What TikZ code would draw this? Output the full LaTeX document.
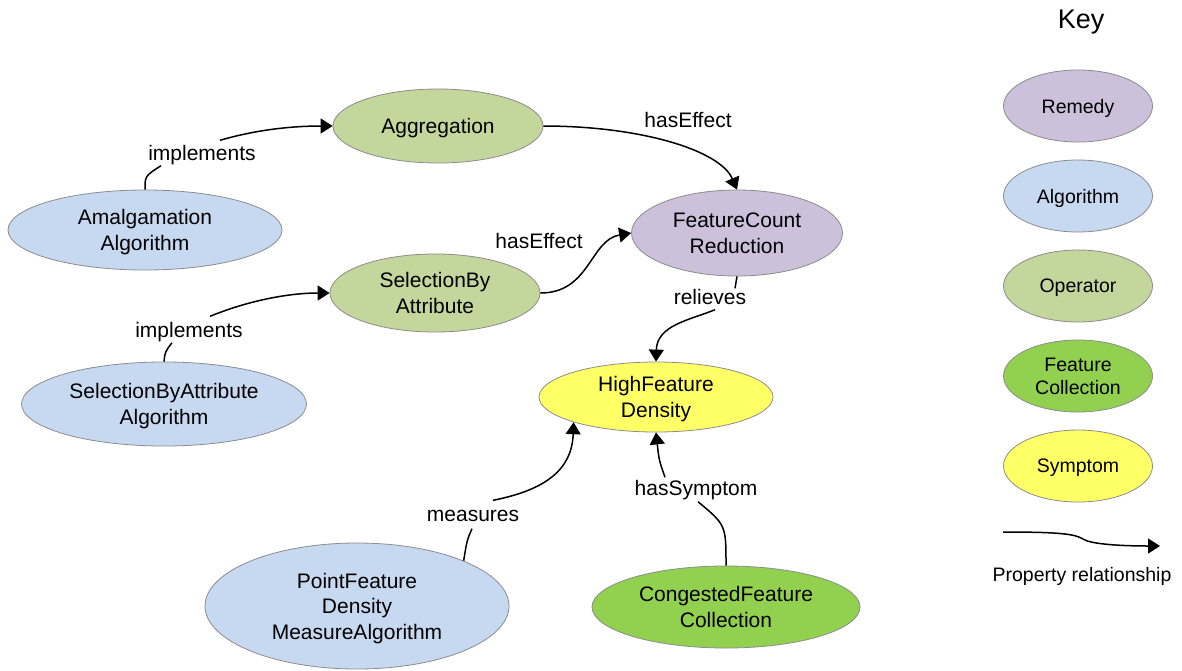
\documentclass[tikz,border=0pt]{standalone}
\usepackage{fontspec}
\setmainfont{Liberation Sans}
\usetikzlibrary{shapes.geometric,arrows.meta,calc}
\definecolor{cRemedy}{RGB}{204,192,218}
\definecolor{cAlgo}{RGB}{198,217,240}
\definecolor{cOper}{RGB}{195,214,155}
\definecolor{cFeat}{RGB}{146,208,80}
\definecolor{cSym}{RGB}{255,255,102}
\definecolor{cBorder}{RGB}{140,140,140}
\begin{document}
\begin{tikzpicture}[x=1pt,y=-1pt,
  box/.style={ellipse,draw=cBorder,line width=0.8pt,inner sep=0pt,align=center,text depth=0pt,font=\fontsize{21}{25.5}\selectfont},
  keybox/.style={ellipse,draw=cBorder,line width=0.8pt,inner sep=0pt,align=center,text depth=0pt,font=\fontsize{19.5}{23}\selectfont,minimum width=149pt,minimum height=72pt},
  lbl/.style={font=\fontsize{21}{25}\selectfont,inner sep=1pt,text height=15pt,text depth=4pt},
  link/.style={line width=1.5pt,black},
  rel/.style={link,-{Triangle[length=12pt,width=15pt]}}
]
\useasboundingbox[fill=white] (0,0) rectangle (1182,670);

% main nodes
\node[box,fill=cOper,minimum width=210pt,minimum height=74pt] (agg) at (438,126) {Aggregation};
\node[box,fill=cAlgo,minimum width=274pt,minimum height=80pt] (amal) at (145,230) {Amalgamation\\Algorithm};
\node[box,fill=cOper,minimum width=210pt,minimum height=78pt] (sel) at (435,293) {SelectionBy\\Attribute};
\node[box,fill=cRemedy,minimum width=211pt,minimum height=86pt] (fcr) at (737,233) {FeatureCount\\Reduction};
\node[box,fill=cAlgo,minimum width=285pt,minimum height=84pt] (selalg) at (164,404) {SelectionByAttribute\\Algorithm};
\node[box,fill=cSym,minimum width=234pt,minimum height=70pt] (hfd) at (656,397) {HighFeature\\Density};
\node[box,fill=cAlgo,minimum width=304pt,minimum height=126pt] (pf) at (357,606) {PointFeature\\Density\\MeasureAlgorithm};
\node[box,fill=cFeat,minimum width=268pt,minimum height=82pt] (cong) at (726,607) {CongestedFeature\\Collection};

% labels
\node[lbl] (l1) at (202,155) {implements};
\node[lbl] (l2) at (688,122) {hasEffect};
\node[lbl] (l3) at (539,243) {hasEffect};
\node[lbl] (l4) at (189,332) {implements};
\node[lbl] (l5) at (710,299) {relieves};
\node[lbl] (l6) at (473,516) {measures};
\node[lbl] (l7) at (696,490) {hasSymptom};

% connectors
\draw[link] (amal.north) .. controls (145,176) .. ($(l1.south)+(-41,0)$);
\draw[rel] ($(l1.north)+(18,-4)$) .. controls (262,128) and (300,126) .. (agg.west);

\draw[rel] (agg.east) .. controls (640,126) and (720,150) .. (fcr.north);

\draw[rel] (sel.east) .. controls (590,293) and (590,240) .. (fcr.west);

\draw[link] (selalg.north) .. controls (165,352) .. ($(l4.south)+(-17,0)$);
\draw[rel] ($(l4.north)+(21,-5)$) .. controls (250,300) and (290,293) .. (sel.west);

\draw[link] (fcr.south) -- ($(l5.north)+(25,0)$);
\draw[rel] ($(l5.south)+(5,0)$) .. controls (690,320) and (657,325) .. (hfd.north);

\draw[link] (pf.23) .. controls (467,540) .. ($(l6.south)+(-1,2)$);
\draw[rel] ($(l6.north)+(20,-5)$) .. controls (545,490) and (572,470) .. (hfd.197);

\draw[link] (cong.north) .. controls (726,525) .. ($(l7.south)+(2,1)$);
\draw[rel] ($(l7.north)+(-31,-2)$) .. controls (659,460) .. (hfd.south);

% key
\node[font=\fontsize{27}{30}\selectfont] (keyt) at (1081,22) {Key};
\node[keybox,fill=cRemedy] (kr) at (1078,106) {Remedy};
\node[keybox,fill=cAlgo] (ka) at (1078,196) {Algorithm};
\node[keybox,fill=cOper] (ko) at (1078,286) {Operator};
\node[keybox,fill=cFeat] (kf) at (1078,376) {Feature\\Collection};
\node[keybox,fill=cSym] (ks) at (1078,466) {Symptom};
\coordinate (k1) at (1003,532);
\coordinate (k2) at (1160,546);
\draw[rel] (k1) .. controls (1060,532) and (1075,534) .. (1083,539) .. controls (1090,544) and (1120,546) .. (k2);
\node[font=\fontsize{19.5}{23}\selectfont] (kp) at (1082,576) {Property relationship};
\end{tikzpicture}
\end{document}
